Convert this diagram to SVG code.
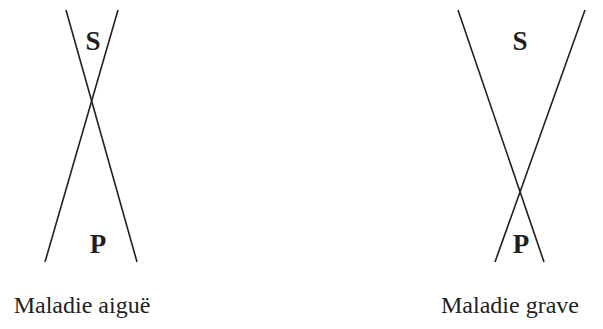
<svg xmlns="http://www.w3.org/2000/svg" width="603" height="329" viewBox="0 0 603 329">
  <style>
    .ln { stroke: #231f20; stroke-width: 1.6; fill: none; }
    .lbl { font-family: "Liberation Serif", "Times New Roman", serif; font-weight: bold; font-size: 27px; fill: #231f20; text-anchor: middle; }
    .cap { font-family: "Liberation Serif", "Times New Roman", serif; font-size: 24px; fill: #231f20; text-anchor: middle; }
  </style>
  <rect width="603" height="329" fill="#ffffff"/>
  <g id="connectors">
    <line class="ln" x1="66" y1="10" x2="137" y2="262"/>
    <line class="ln" x1="118" y1="10" x2="45" y2="262"/>
    <line class="ln" x1="458" y1="10" x2="544" y2="262"/>
    <line class="ln" x1="585" y1="10" x2="495" y2="262"/>
  </g>
  <g id="left-S"><text class="lbl" x="93" y="50">S</text></g>
  <g id="left-P"><text class="lbl" x="98" y="253">P</text></g>
  <g id="left-caption"><text class="cap" x="82" y="313">Maladie aiguë</text></g>
  <g id="right-S"><text class="lbl" x="520" y="50">S</text></g>
  <g id="right-P"><text class="lbl" x="521" y="253">P</text></g>
  <g id="right-caption"><text class="cap" x="510" y="313">Maladie grave</text></g>
</svg>
